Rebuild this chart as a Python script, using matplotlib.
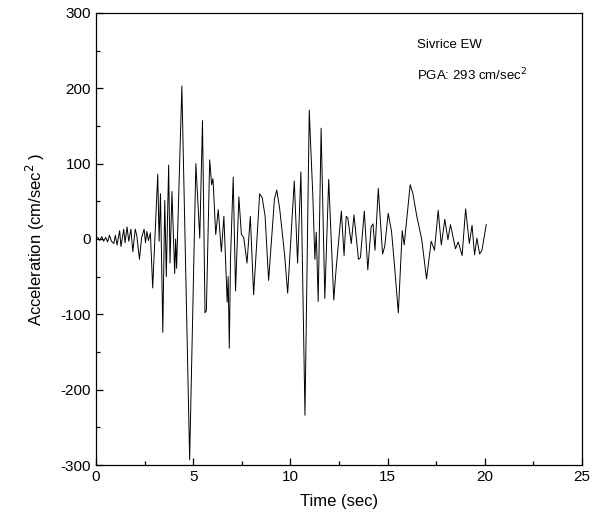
import matplotlib
matplotlib.use("Agg")
import matplotlib.pyplot as plt
from matplotlib.ticker import MultipleLocator

plt.rcParams['font.family'] = ['Liberation Sans', 'DejaVu Sans']
plt.rcParams['axes.unicode_minus'] = False

time_s = [0.0, 0.1, 0.2, 0.3, 0.4, 0.5, 0.6, 0.7, 0.8, 0.92, 1.0, 1.09, 1.22, 1.29, 1.43, 1.5,
          1.6, 1.69, 1.8, 1.9, 2.02, 2.1, 2.24, 2.35, 2.48, 2.55, 2.62, 2.7, 2.8, 2.92,
          3.18, 3.25, 3.32, 3.44, 3.54, 3.62, 3.74, 3.81, 3.91, 4.05, 4.1, 4.15, 4.42, 4.82,
          5.14, 5.34, 5.48, 5.61, 5.68, 5.85, 5.95, 6.02, 6.16, 6.29, 6.45, 6.58, 6.75, 6.8,
          6.86, 6.92, 7.06, 7.18, 7.35, 7.48, 7.6, 7.77, 7.94, 8.11, 8.42, 8.55, 8.7, 8.88,
          9.18, 9.3, 9.45, 9.7, 9.86, 10.2, 10.37, 10.54, 10.75, 10.97, 11.05, 11.15, 11.26,
          11.33, 11.43, 11.58, 11.77, 11.97, 12.23, 12.35, 12.62, 12.76, 12.87, 12.95, 13.13,
          13.27, 13.5, 13.6, 13.8, 13.98, 14.15, 14.25, 14.35, 14.52, 14.74, 14.85, 15.03,
          15.2, 15.35, 15.55, 15.75, 15.85, 16.16, 16.3, 16.5, 16.75, 17.0, 17.24, 17.41,
          17.6, 17.76, 17.94, 18.1, 18.23, 18.49, 18.63, 18.83, 19.01, 19.2, 19.34, 19.47,
          19.59, 19.73, 19.85, 20.07]
accel = [0, 2, -2, 3, -3, 2, -4, 5, -3, -6, 5, -8, 11, -10, 13, -5,
         16, -3, 13, -17, 13, 5, -27, 2, 13, -5, 10, -2, 8, -65,
         86, -3, 60, -124, 51, -50, 98, -32, 63, -46, 0, -39, 203, -293,
         100, 1, 157, -98, -95, 105, 72, 80, 6, 39, -17, 30, -84, -50,
         -145, -27, 82, -69, 56, 6, 2, -32, 30, -74, 60, 55, 30, -55,
         53, 65, 40, -20, -72, 77, -32, 89, -234, 171, 120, 60, -27,
         9, -83, 147, -79, 79, -81, -40, 37, -22, 30, 28, -6,
         32, -27, -25, 37, -41, 16, 20, -15, 67, -20, -10, 34,
         10, -34, -98, 11, -8, 72, 60, 30, 0, -53, -3, -15,
         38, -8, 26, -1, 19, -13, -4, -22, 40, -6, 18, -21,
         1, -20, -15, 19]

x_ticks = [0, 5, 10, 15, 20, 25]
y_ticks = [-300, -200, -100, 0, 100, 200, 300]

fig = plt.figure(figsize=(6.07, 5.15), dpi=100)
ax = fig.add_axes([0.158, 0.097, 0.801, 0.878])

ax.plot(time_s, accel, color='black', linewidth=0.7)

ax.set_xlim(0, 25)
ax.set_ylim(-300, 300)
ax.set_xticks(x_ticks)
ax.set_yticks(y_ticks)
ax.xaxis.set_minor_locator(MultipleLocator(2.5))
ax.yaxis.set_minor_locator(MultipleLocator(50))
ax.tick_params(which='both', direction='in', top=False, right=False, labelsize=11)
ax.tick_params(which='major', length=5, width=0.9)
ax.tick_params(which='minor', length=3, width=0.9)
for s in ax.spines.values():
    s.set_linewidth(0.9)

ax.set_xlabel('Time (sec)', fontsize=12, labelpad=7)
ax.set_ylabel('Acceleration (cm/sec$^2$ )', fontsize=12, labelpad=10)

ax.text(16.5, 257, 'Sivrice EW', fontsize=9.5, va='center', ha='left')
ax.text(16.5, 218, 'PGA: 293 cm/sec$^2$', fontsize=9.5, va='center', ha='left')

fig.savefig('out.png', dpi=100)
